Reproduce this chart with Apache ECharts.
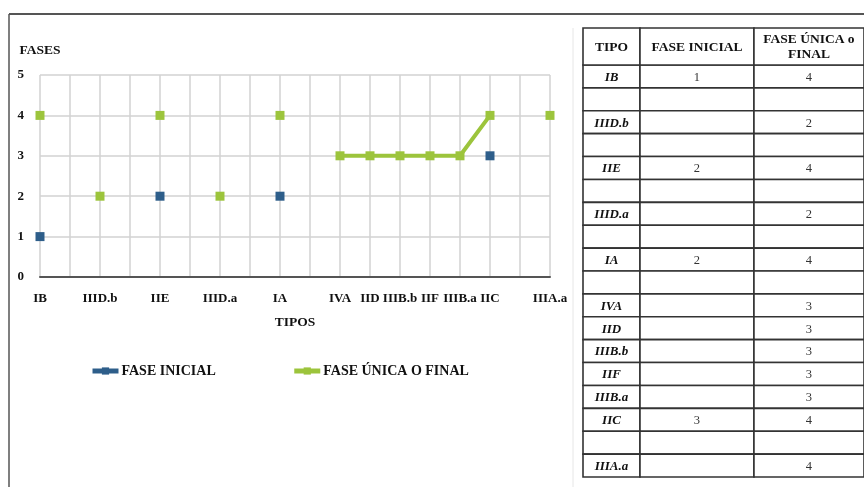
<!DOCTYPE html>
<html>
<head>
<meta charset="utf-8">
<script src="https://cdn.jsdelivr.net/npm/echarts@6/dist/echarts.min.js"></script>
<style>
  html, body { margin: 0; padding: 0; background: #fff; }
  #chart { width: 864px; height: 487px; }
</style>
</head>
<body>
<div id="chart"></div>
<script>
// Types of vessel, in the order they run along the horizontal axis and down the table.
const tipos = ['IB', '', 'IIID.b', '', 'IIE', '', 'IIID.a', '', 'IA', '', 'IVA', 'IID', 'IIIB.b', 'IIF', 'IIIB.a', 'IIC', '', 'IIIA.a'];
// Phase values (null where the type has none).
const faseInicial = [1, null, null, null, 2, null, null, null, 2, null, null, null, null, null, null, 3, null, null];
const faseFinal   = [4, null, 2, null, 4, null, 2, null, 4, null, 3, 3, 3, 3, 3, 4, null, 4];
// Labels.
const seriesNames = ['FASE INICIAL', 'FASE ÚNICA O FINAL'];
const tableHeader = ['TIPO', 'FASE INICIAL', 'FASE ÚNICA o\nFINAL'];
const yAxisTitle = 'FASES';
const xAxisTitle = 'TIPOS';

// Table layout: column edges in pixels of table width.
const COL_EDGES = [0, 58, 174, 286];
const SERIF = '"Liberation Serif", "DejaVu Serif", serif';
const BLUE = '#2e5e8a';
const GREEN = '#9cc43c';

// Cells of the table body: [column, row] with the text to print.
const bodyCells = [];
const bodyText = [];
tipos.forEach((t, i) => {
  const a = faseInicial[i] == null ? '' : String(faseInicial[i]);
  const b = faseFinal[i] == null ? '' : String(faseFinal[i]);
  [t, a, b].forEach((txt, c) => {
    bodyCells.push([c, i]);
    bodyText.push({ text: txt, col: c });
  });
});
const headCells = tableHeader.map((h, c) => [c, 0]);

function cellRenderer(texts, isHeader) {
  return function (params, api) {
    const c = api.value(0);
    const r = api.value(1);
    const p0 = api.coord([COL_EDGES[c], r]);
    const p1 = api.coord([COL_EDGES[c + 1], r + 1]);
    const info = texts[params.dataIndex];
    let font;
    if (isHeader) font = 'bold 13.5px ' + SERIF;
    else if (info.col === 0) font = 'italic bold 13px ' + SERIF;
    else font = '12.5px ' + SERIF;
    return {
      type: 'group',
      children: [
        {
          type: 'rect',
          shape: { x: p0[0], y: Math.min(p0[1], p1[1]), width: p1[0] - p0[0], height: Math.abs(p1[1] - p0[1]) },
          style: { fill: '#fff', stroke: '#333', lineWidth: 1.6 }
        },
        {
          type: 'text',
          style: {
            text: info.text,
            x: (p0[0] + p1[0]) / 2,
            y: (p0[1] + p1[1]) / 2 + 1,
            align: 'center',
            verticalAlign: 'middle',
            font: font,
            fill: isHeader || info.col === 0 ? '#111' : '#333',
            lineHeight: 15
          }
        }
      ]
    };
  };
}

const chart = echarts.init(document.getElementById('chart'), null, { renderer: 'canvas' });

chart.setOption({
  animation: false,
  backgroundColor: '#fff',
  grid: [
    { left: 40, top: 75, width: 510, height: 202 },
    { left: 583, top: 65, width: 286, height: 412 },
    { left: 583, top: 28, width: 286, height: 37 }
  ],
  legend: {
    left: 85,
    top: 359,
    itemWidth: 26,
    itemHeight: 9,
    itemGap: 76,
    data: seriesNames,
    lineStyle: { width: 5 },
    textStyle: { fontFamily: SERIF, fontWeight: 'bold', fontSize: 14, color: '#111', padding: [0, 0, 0, -2] }
  },
  xAxis: [
    {
      gridIndex: 0,
      type: 'category',
      data: tipos,
      boundaryGap: false,
      name: xAxisTitle,
      nameLocation: 'middle',
      nameGap: 39,
      nameTextStyle: { fontFamily: SERIF, fontWeight: 'bold', fontSize: 13.5, color: '#111' },
      axisLine: { lineStyle: { color: '#555', width: 2 } },
      axisTick: { show: false },
      axisLabel: { interval: 0, margin: 15, fontFamily: SERIF, fontWeight: 'bold', fontSize: 13, color: '#111' },
      splitLine: { show: true, interval: 0, lineStyle: { color: '#d2d2d2', width: 1.5 } }
    },
    { gridIndex: 1, type: 'value', min: 0, max: COL_EDGES[3], show: false },
    { gridIndex: 2, type: 'value', min: 0, max: COL_EDGES[3], show: false }
  ],
  yAxis: [
    {
      gridIndex: 0,
      type: 'value',
      min: 0,
      max: 5,
      interval: 1,
      name: yAxisTitle,
      nameLocation: 'end',
      nameGap: 17,
      nameTextStyle: { fontFamily: SERIF, fontWeight: 'bold', fontSize: 13.5, color: '#111', align: 'center' },
      axisLine: { show: false },
      axisTick: { show: false },
      axisLabel: { margin: 16, fontFamily: SERIF, fontWeight: 'bold', fontSize: 13, color: '#111' },
      splitLine: { show: true, lineStyle: { color: '#d2d2d2', width: 1.5 } }
    },
    { gridIndex: 1, type: 'value', min: 0, max: tipos.length, inverse: true, show: false },
    { gridIndex: 2, type: 'value', min: 0, max: 1, inverse: true, show: false }
  ],
  series: [
    {
      name: seriesNames[0],
      type: 'line',
      xAxisIndex: 0,
      yAxisIndex: 0,
      data: faseInicial,
      connectNulls: false,
      showAllSymbol: true,
      symbol: 'rect',
      symbolSize: 9,
      itemStyle: { color: BLUE },
      lineStyle: { color: BLUE, width: 4 },
      z: 3
    },
    {
      name: seriesNames[1],
      type: 'line',
      xAxisIndex: 0,
      yAxisIndex: 0,
      data: faseFinal,
      connectNulls: false,
      showAllSymbol: true,
      symbol: 'rect',
      symbolSize: 9,
      itemStyle: { color: GREEN },
      lineStyle: { color: GREEN, width: 4 },
      z: 3
    },
    {
      type: 'custom',
      xAxisIndex: 1,
      yAxisIndex: 1,
      data: bodyCells,
      clip: false,
      silent: true,
      renderItem: cellRenderer(bodyText, false)
    },
    {
      type: 'custom',
      xAxisIndex: 2,
      yAxisIndex: 2,
      data: headCells,
      clip: false,
      silent: true,
      renderItem: cellRenderer(tableHeader.map((h, c) => ({ text: h, col: c })), true)
    }
  ],
  graphic: [
    // Page frame
    { type: 'line', shape: { x1: 9, y1: 14, x2: 864, y2: 14 }, style: { stroke: '#555', lineWidth: 2 }, silent: true },
    { type: 'line', shape: { x1: 9, y1: 14, x2: 9, y2: 487 }, style: { stroke: '#555', lineWidth: 1.5 }, silent: true },
    { type: 'line', shape: { x1: 573, y1: 28, x2: 573, y2: 487 }, style: { stroke: '#e6e6e6', lineWidth: 1 }, silent: true }
  ]
});
</script>
</body>
</html>
